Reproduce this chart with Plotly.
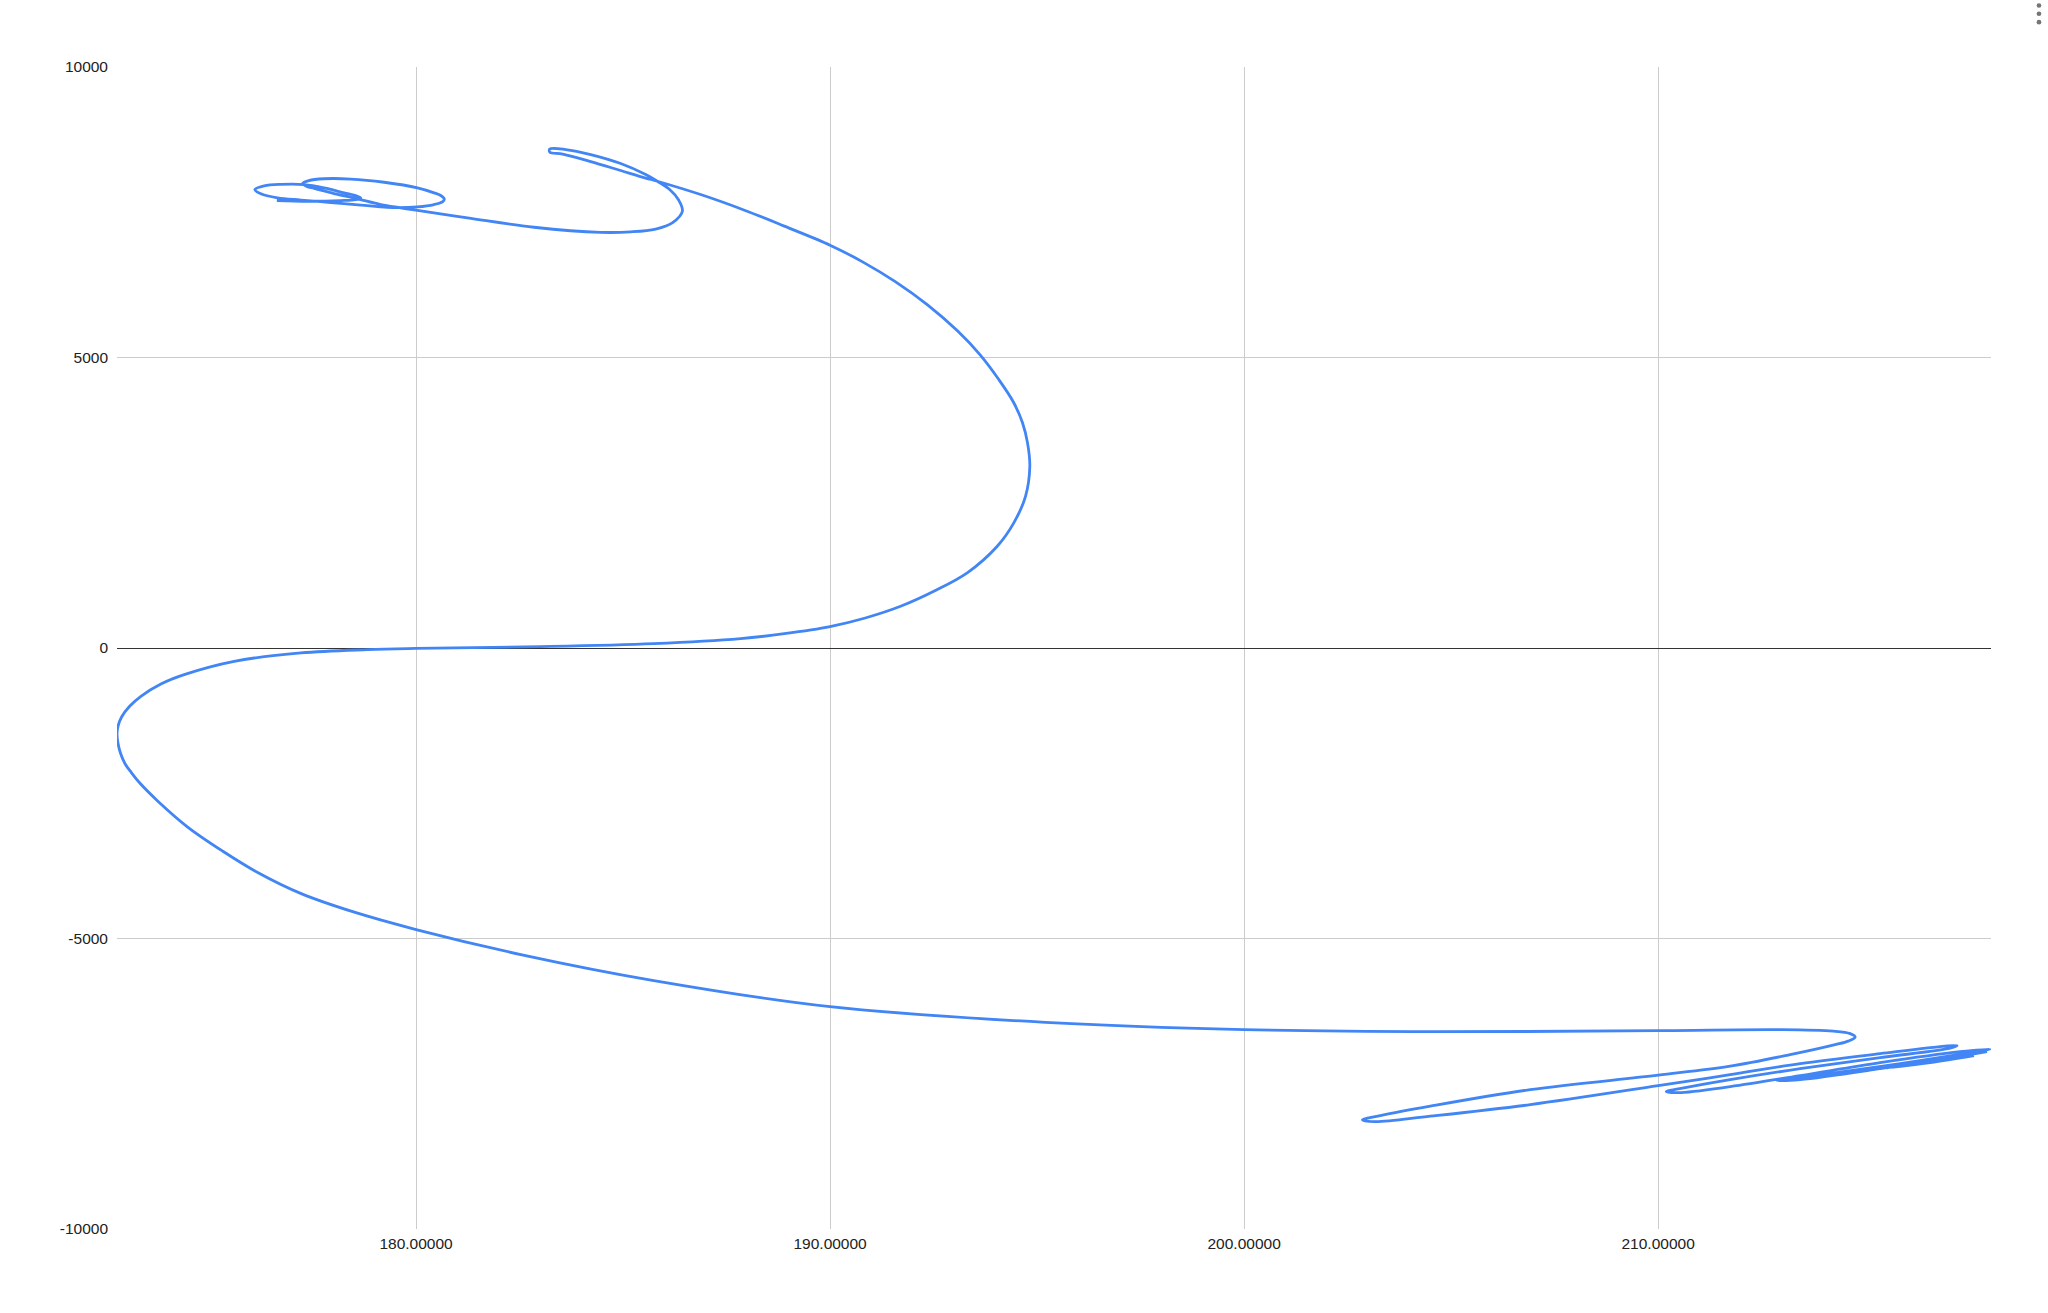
import plotly.graph_objects as go

# Trajectory (x value, y value), in drawing order
x_vals = [
    # top-left loops
    176.637, 177.378, 178.182, 178.544, 178.665, 178.568, 178.262, 177.779, 177.296, 176.733,
    176.330, 176.106, 176.251, 176.654, 177.216, 177.941, 178.665, 179.310, 180.034, 180.435,
    180.645, 180.681, 180.596, 180.435, 180.034, 179.227, 178.423, 177.779, 177.409, 177.257,
    177.361, 177.537, 178.020, 178.585, 179.148, 179.631, 179.993, 181.241, 182.849, 184.459,
    # hook
    185.183, 185.787, 186.197, 186.432, 186.342, 186.125, 185.828, 185.546, 184.942, 184.218,
    183.614, 183.228, 183.228, 183.542, 184.218, 184.942, 185.546, 185.828, 186.873,
    # long line and big arc
    187.948, 188.894, 189.998, 190.785, 191.574, 192.361, 193.088, 193.624,
    194.075, 194.430, 194.647, 194.766, 194.824, 194.720, 194.437, 194.037, 193.312, 192.506, 191.702,
    190.850, 189.998, 188.894, 187.839, 185.739, 183.011, 179.993, 178.827, 177.216, 175.606,
    # left bulge
    174.399, 173.836, 173.353, 173.081, 172.890, 172.803, 172.776, 172.798, 172.861, 172.970,
    173.127, 173.332, 173.757, 174.483, 175.333, 176.185, 177.226, 178.489, 180.000, 182.586,
    185.741, 189.998, 195.200, 199.993, 204.660, 210.002, 212.948, 214.228,
    # bottom-right loops
    214.638, 214.759, 214.590, 214.276, 213.189, 211.741, 210.002, 206.912, 204.498, 203.290,
    202.856, 203.170, 204.498, 206.912, 210.002, 211.741, 213.431, 215.363, 216.931, 217.221,
    217.052, 215.363, 213.431, 211.741, 210.654, 210.196, 210.485, 211.741, 213.431, 215.363,
    217.294, 218.015, 217.391, 215.845, 214.128, 212.877, 213.431, 215.363, 217.052, 217.944,
    216.784, 215.505, 216.569, 217.629,
]
y_vals = [
    7701.5, 7689.5, 7701.5, 7718.8, 7744.6, 7779.0, 7834.1, 7920.2, 7977.0, 7980.4,
    7954.6, 7890.9, 7816.9, 7748.0, 7710.2, 7667.1, 7624.1, 7584.5, 7593.1, 7632.9,
    7684.3, 7727.4, 7787.6, 7834.1, 7920.2, 8016.6, 8071.6, 8076.8, 8046.0, 7994.2,
    7942.7, 7911.6, 7822.0, 7730.8, 7632.9, 7575.9, 7534.6, 7403.7, 7241.9, 7154.1,
    7162.7, 7210.9, 7322.8, 7517.4, 7710.2, 7890.9, 8033.8, 8149.1, 8338.5, 8493.4,
    8579.5, 8588.1, 8536.4, 8502.0, 8372.9, 8218.0, 8088.9, 8033.8, 7804.8,
    7531.1, 7260.9, 6933.8, 6646.3, 6305.5, 5900.9, 5449.9, 5045.4,
    4620.2, 4230.0, 3876.6, 3539.2, 3127.8, 2611.4, 2153.5, 1750.7, 1292.8, 976.0, 717.8,
    516.4, 368.4, 246.2, 161.8, 75.7, 24.1, -6.9, -27.5, -84.3, -228.9,
    -457.9, -619.7, -831.4, -1001.9, -1182.6, -1339.2, -1473.5, -1631.9, -1810.9, -1991.7,
    -2148.3, -2329.0, -2632.0, -3081.3, -3497.9, -3868.0, -4227.8, -4542.8, -4845.7, -5284.7,
    -5723.7, -6172.9, -6443.2, -6567.1, -6603.3, -6586.1, -6568.9, -6594.7,
    -6637.7, -6698.0, -6766.8, -6827.1, -6999.2, -7197.2, -7352.1, -7601.7, -7885.7, -8049.3,
    -8123.3, -8152.5, -8057.9, -7859.9, -7532.8, -7343.5, -7154.1, -6982.0, -6852.9, -6844.3,
    -6887.3, -7050.9, -7240.2, -7429.6, -7567.3, -7636.1, -7653.3, -7550.0, -7360.7, -7136.9,
    -6947.6, -6904.5, -6982.0, -7154.1, -7326.3, -7446.8, -7429.6, -7240.2, -7050.9, -6947.6,
    -7085.3, -7228.2, -7136.9, -7016.4,
]

x_ticks = [180, 190, 200, 210]
x_tick_labels = ["180.00000", "190.00000", "200.00000", "210.00000"]
y_ticks = [-10000, -5000, 0, 5000, 10000]
y_tick_labels = ["-10000", "-5000", "0", "5000", "10000"]
x_range = [172.776, 218.04]
y_range = [-10000, 10000]

fig = go.Figure()
fig.add_trace(go.Scatter(
    x=x_vals, y=y_vals, mode="lines",
    line=dict(color="#4285F4", width=2.8, shape="spline", smoothing=1.0),
    hoverinfo="skip", showlegend=False,
))

font_family = "Liberation Sans, Arial, sans-serif"
fig.update_layout(
    width=2048, height=1313, autosize=False,
    margin=dict(l=117, r=57, t=67, b=84, pad=0),
    paper_bgcolor="white", plot_bgcolor="white",
    font=dict(family=font_family, size=16, color="#222222"),
    xaxis=dict(
        range=x_range, tickvals=x_ticks, ticktext=x_tick_labels,
        showgrid=True, gridcolor="#cccccc", gridwidth=1,
        zeroline=False, showline=False, ticks="",
        tickfont=dict(size=15.5, color="#222222"), ticklabelstandoff=3,
    ),
    yaxis=dict(
        range=y_range, tickvals=y_ticks, ticktext=y_tick_labels,
        showgrid=True, gridcolor="#cccccc", gridwidth=1,
        zeroline=True, zerolinecolor="#333333", zerolinewidth=1,
        showline=False, ticks="",
        tickfont=dict(size=15.5, color="#222222"), ticklabelstandoff=8,
    ),
    shapes=[
        dict(type="circle", xref="paper", yref="paper",
             x0=1.0256 - 0.00125, x1=1.0256 + 0.00125,
             y0=yc - 0.002, y1=yc + 0.002,
             fillcolor="#757575", line=dict(width=0))
        for yc in [1.0529, 1.0458, 1.0386]
    ],
)

fig.write_html("out.html", include_plotlyjs=True, full_html=True,
               config={"displayModeBar": False},
               post_script="document.body.style.margin='0';document.body.style.overflow='hidden';")
